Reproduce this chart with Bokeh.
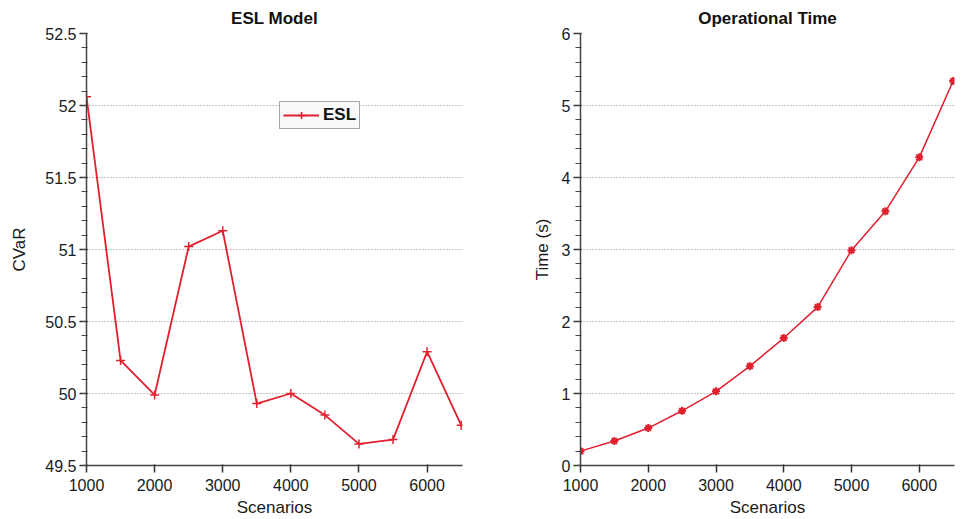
from bokeh.plotting import figure
from bokeh.layouts import row
from bokeh.models import FixedTicker, SingleIntervalTicker, CustomJSTickFormatter, Range1d
from bokeh.embed import file_html
from bokeh.resources import INLINE

# ---- data ----
scenarios = [1000, 1500, 2000, 2500, 3000, 3500, 4000, 4500, 5000, 5500, 6000, 6500]
cvar_esl = [52.06, 50.23, 49.99, 51.02, 51.13, 49.93, 50.00, 49.85, 49.65, 49.68, 50.29, 49.78]
op_time = [0.20, 0.34, 0.52, 0.76, 1.03, 1.38, 1.77, 2.20, 2.99, 3.53, 4.28, 5.34]

x_ticks = [1000, 2000, 3000, 4000, 5000, 6000]
left_y_step = 0.5
right_y_step = 1

RED = "#e0202e"
FONT = "Liberation Sans"

fmt = CustomJSTickFormatter(code="return String(Math.round(tick*100)/100);")


def style(p, ystep, ylabel_standoff):
    p.title.align = "center"
    p.title.text_font = FONT
    p.title.text_font_size = "17px"
    p.title.text_font_style = "bold"
    p.title.text_color = "#111111"
    p.title.standoff = 12
    p.outline_line_color = None
    p.xgrid.grid_line_color = None
    p.ygrid.grid_line_color = "#8a8a8a"
    p.ygrid.grid_line_dash = "1 2"
    p.ygrid.grid_line_width = 1
    p.xaxis.ticker = FixedTicker(ticks=x_ticks)
    p.yaxis.ticker = SingleIntervalTicker(interval=ystep, num_minor_ticks=5)
    p.yaxis.formatter = fmt
    for ax in (p.xaxis[0], p.yaxis[0]):
        ax.axis_line_color = "#444444"
        ax.axis_line_width = 1.5
        ax.major_tick_line_color = "#333333"
        ax.major_tick_line_width = 1.5
        ax.minor_tick_line_color = "#444444"
        ax.minor_tick_line_width = 1
        ax.major_tick_in = 1
        ax.major_tick_out = 7
        ax.minor_tick_in = 1
        ax.minor_tick_out = 5
        ax.major_label_text_font = FONT
        ax.major_label_text_font_size = "16px"
        ax.major_label_text_color = "#1a1a1a"
        ax.axis_label_text_font = FONT
        ax.axis_label_text_font_size = "17px"
        ax.axis_label_text_font_style = "normal"
        ax.axis_label_text_color = "#1a1a1a"
    p.xaxis[0].minor_tick_line_color = None
    p.xaxis[0].major_label_standoff = 6
    p.xaxis[0].axis_label_standoff = 4
    p.yaxis[0].major_label_standoff = 3
    p.yaxis[0].axis_label_standoff = ylabel_standoff


# ---- left figure ----
p1 = figure(width=484, height=519, title="ESL Model", output_backend="svg",
            toolbar_location=None, x_range=Range1d(1000, 6520),
            y_range=Range1d(49.5, 52.5),
            min_border_left=86, min_border_right=22,
            min_border_top=32, min_border_bottom=52)
p1.xaxis.axis_label = "Scenarios"
p1.yaxis.axis_label = "CVaR"
style(p1, left_y_step, 13)
p1.line(scenarios, cvar_esl, line_color=RED, line_width=1.8, legend_label="ESL")
p1.scatter(scenarios, cvar_esl, marker="cross", size=9, line_color=RED,
           line_width=1.5, legend_label="ESL")
p1.legend.location = (193, 336)
p1.legend.label_text_font = FONT
p1.legend.label_text_font_size = "17px"
p1.legend.label_text_font_style = "bold"
p1.legend.label_text_color = "#111111"
p1.legend.border_line_color = "#555555"
p1.legend.border_line_width = 1.5
p1.legend.background_fill_color = "#f9f9f9"
p1.legend.background_fill_alpha = 1
p1.legend.padding = 3
p1.legend.margin = 0
p1.legend.spacing = 0
p1.legend.glyph_width = 36
p1.legend.glyph_height = 18
p1.legend.label_height = 18
p1.legend.label_standoff = 4

# ---- right figure ----
p2 = figure(width=484, height=519, title="Operational Time", output_backend="svg",
            toolbar_location=None, x_range=Range1d(1000, 6520),
            y_range=Range1d(0, 6),
            min_border_left=96, min_border_right=14,
            min_border_top=32, min_border_bottom=52)
p2.xaxis.axis_label = "Scenarios"
p2.yaxis.axis_label = "Time (s)"
style(p2, right_y_step, 7)
p2.line(scenarios, op_time, line_color=RED, line_width=1.5)
p2.scatter(scenarios, op_time, marker="asterisk", size=8, line_color=RED,
           line_width=2)

layout = row(p1, p2)
open("out.html", "w").write(file_html(layout, INLINE))
